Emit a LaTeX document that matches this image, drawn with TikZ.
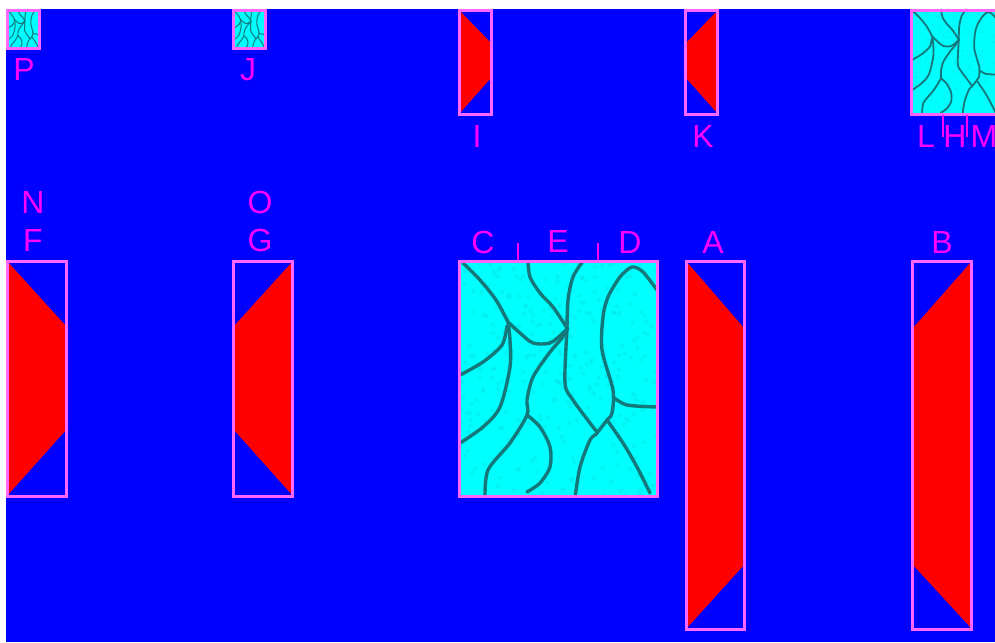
\documentclass[tikz,border=0pt]{standalone}
\usepackage{fontspec}
\setmainfont{Liberation Sans}
\definecolor{bg}{RGB}{0,0,255}
\definecolor{bord}{RGB}{255,102,255}
\definecolor{lab}{RGB}{255,0,255}
\definecolor{rd}{RGB}{255,0,0}
\definecolor{cy}{RGB}{0,255,255}
\definecolor{cyd}{RGB}{0,225,225}
\definecolor{crk}{RGB}{20,120,122}
\tikzset{
  frame/.style={draw=bord,line width=3pt},
  lbl/.style={text=lab,font=\fontsize{32}{32}\selectfont,inner sep=0pt,anchor=base},
  tickmark/.style={draw=lab,line width=2pt},
  redfill/.style={fill=rd},
}
\newcommand\frm[4]{\draw[frame] ({#1+1.5},{#2+1.5}) rectangle ({#3-1.5},{#4-1.5});}
\newcommand\crackbox[4]{%
 \begin{scope}[shift={(#1,#2)},scale=#3]
  \clip (0,0) rectangle (200,237);
  \fill[cy] (0,0) rectangle (200,237);
  \pgfmathsetseed{11}
  \foreach \i in {1,...,320}{\fill[cyd,opacity=.35] ({rnd*200},{rnd*237}) circle (2.2);}
  \begin{scope}[draw=crk,line width=#4,line cap=round,line join=round]
  \draw plot[smooth] coordinates {(5,3) (22,20) (38,40) (50,62)};
  \draw plot[smooth] coordinates {(50,62) (62,73) (75,83) (92,83) (105,73) (110,68)};
  \draw plot[smooth] coordinates {(50,62) (52,80) (52,107) (42,147) (25,167) (2,183)};
  \draw plot[smooth] coordinates {(49,66) (44,85) (25,102) (2,115)};
  \draw plot[smooth] coordinates {(70,1) (72,17) (82,33) (95,47) (109,68)};
  \draw plot[smooth] coordinates {(125,1) (115,17) (110,40) (109,68)};
  \draw plot[smooth] coordinates {(109,68) (104,78) (92,92) (75,117) (69,140) (69,155) (52,183) (30,210) (27,238)};
  \draw plot[smooth] coordinates {(69,155) (82,167) (92,187) (92,207) (82,223) (69,232)};
  \draw plot[smooth] coordinates {(109,70) (107,123) (115,140) (135,167) (139,173) (132,180) (122,207) (117,238)};
  \draw plot[smooth] coordinates {(199,30) (185,12) (174,7) (162,17) (150,37) (145,57) (144,90) (155,130) (154,153) (149,160) (139,173)};
  \draw plot[smooth] coordinates {(149,160) (165,183) (179,207) (192,233)};
  \draw plot[smooth] coordinates {(155,137) (169,145) (199,147)};
  \end{scope}
 \end{scope}}
\begin{document}
\begin{tikzpicture}[x=1pt,y=-1pt]
\useasboundingbox (0,0) rectangle (995,642);
\clip (0,0) rectangle (995,642);
\fill[bg] (6,9) rectangle (995,642);

% textured boxes
\crackbox{6}{9}{0.173}{1pt}
\frm{6}{9}{41}{50}
\crackbox{232}{9}{0.173}{1pt}
\frm{232}{9}{267}{50}
\crackbox{910}{9}{0.447}{1.8pt}
\frm{910}{9}{1000}{116}
\crackbox{458}{260}{1}{3.4pt}
\frm{458}{260}{659}{498}

% red tapered boxes
\fill[redfill] (459,10) -- (491,43) -- (491,78) -- (459,114) -- cycle;
\frm{458}{9}{493}{116}
\fill[redfill] (718,10) -- (686,43) -- (686,78) -- (718,114) -- cycle;
\frm{684}{9}{719}{116}
\fill[redfill] (7,261) -- (66,326) -- (66,430) -- (7,496) -- cycle;
\frm{6}{260}{68}{498}
\fill[redfill] (293,261) -- (234,326) -- (234,430) -- (293,496) -- cycle;
\frm{232}{260}{294}{498}
\fill[redfill] (686,261) -- (744,328) -- (744,565) -- (686,629) -- cycle;
\frm{685}{260}{746}{631}
\fill[redfill] (972,261) -- (913,328) -- (913,565) -- (972,629) -- cycle;
\frm{911}{260}{973}{631}

% tick marks
\coordinate (t1a) at (518,243); \coordinate (t1b) at (518,260);
\coordinate (t2a) at (598,243); \coordinate (t2b) at (598,260);
\coordinate (t3a) at (943,115); \coordinate (t3b) at (943,137);
\coordinate (t4a) at (967,115); \coordinate (t4b) at (967,137);
\draw[tickmark] (t1a) -- (t1b);
\draw[tickmark] (t2a) -- (t2b);
\draw[tickmark] (t3a) -- (t3b);
\draw[tickmark] (t4a) -- (t4b);

% labels
\node[lbl] (P) at (24,80) {P};
\node[lbl] (J) at (248,80) {J};
\node[lbl] (I) at (477,147) {I};
\node[lbl] (K) at (703,147) {K};
\node[lbl] (L) at (926,147) {L};
\node[lbl] (H) at (955,147) {H};
\node[lbl] (M) at (984,147) {M};
\node[lbl] (N) at (33,213) {N};
\node[lbl] (F) at (33,251) {F};
\node[lbl] (O) at (260,213) {O};
\node[lbl] (G) at (260,251) {G};
\node[lbl] (C) at (483,253) {C};
\node[lbl] (E) at (558,252) {E};
\node[lbl] (D) at (630,253) {D};
\node[lbl] (A) at (713,253) {A};
\node[lbl] (B) at (942,253) {B};
\end{tikzpicture}
\end{document}
